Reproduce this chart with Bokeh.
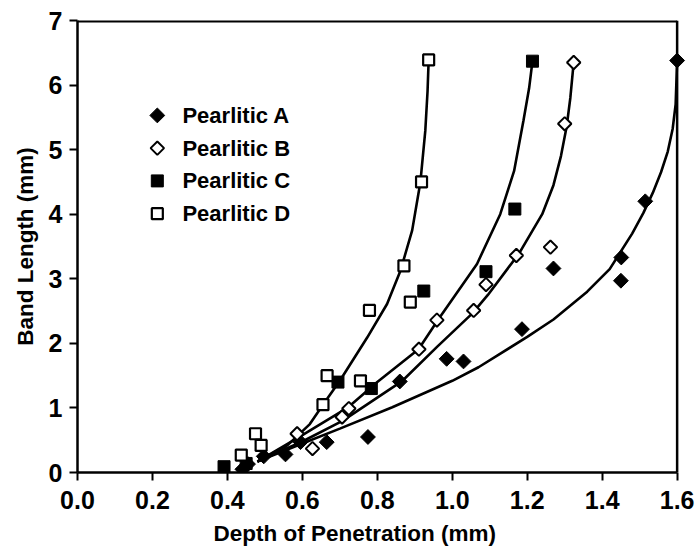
import math
from bokeh.plotting import figure
from bokeh.models import Range1d, Span, Title, FixedTicker
from bokeh.core.properties import value
from bokeh.embed import file_html
from bokeh.resources import INLINE

FONT = "Liberation Sans"

# ---- measured points (Depth of Penetration mm, Band Length mm) ----
a_x = [0.44, 0.455, 0.497, 0.555, 0.595, 0.665, 0.775, 0.86, 0.985, 1.03, 1.186, 1.27, 1.45, 1.451, 1.515, 1.60]
a_y = [0.05, 0.13, 0.25, 0.28, 0.47, 0.47, 0.55, 1.41, 1.76, 1.72, 2.22, 3.16, 2.97, 3.33, 4.20, 6.38]

b_x = [0.586, 0.627, 0.706, 0.724, 0.911, 0.959, 1.057, 1.09, 1.171, 1.262, 1.30, 1.324]
b_y = [0.60, 0.37, 0.86, 0.99, 1.91, 2.36, 2.51, 2.91, 3.36, 3.49, 5.40, 6.35]

c_x = [0.391, 0.45, 0.695, 0.784, 0.924, 1.09, 1.167, 1.214]
c_y = [0.09, 0.14, 1.40, 1.30, 2.81, 3.11, 4.08, 6.37]

d_x = [0.437, 0.475, 0.49, 0.655, 0.666, 0.755, 0.779, 0.871, 0.888, 0.918, 0.937]
d_y = [0.27, 0.60, 0.42, 1.05, 1.50, 1.42, 2.51, 3.20, 2.64, 4.50, 6.39]

# ---- fitted curves ----
a_fit_x = [0.48, 0.60, 0.70, 0.84, 1.00, 1.07, 1.20, 1.27, 1.36, 1.42, 1.48, 1.51, 1.535, 1.557, 1.575, 1.588, 1.596, 1.600]
a_fit_y = [0.17, 0.45, 0.68, 1.01, 1.42, 1.63, 2.10, 2.37, 2.80, 3.15, 3.70, 4.02, 4.33, 4.65, 4.97, 5.32, 5.70, 6.38]

b_fit_x = [0.48, 0.60, 0.707, 0.865, 0.96, 1.053, 1.095, 1.178, 1.24, 1.27, 1.29, 1.305, 1.315, 1.324]
b_fit_y = [0.17, 0.48, 0.80, 1.41, 1.95, 2.46, 2.75, 3.39, 4.00, 4.45, 4.90, 5.35, 5.80, 6.35]

c_fit_x = [0.48, 0.60, 0.72, 0.80, 0.91, 0.964, 1.066, 1.128, 1.165, 1.19, 1.205, 1.214]
c_fit_y = [0.17, 0.58, 1.00, 1.40, 1.91, 2.38, 3.23, 4.00, 4.67, 5.45, 5.95, 6.37]

d_fit_x = [0.48, 0.56, 0.62, 0.655, 0.70, 0.773, 0.826, 0.862, 0.893, 0.915, 0.928, 0.934, 0.937]
d_fit_y = [0.17, 0.42, 0.75, 1.05, 1.42, 2.09, 2.61, 3.13, 3.75, 4.50, 5.29, 5.90, 6.39]

labels = ["Pearlitic A", "Pearlitic B", "Pearlitic C", "Pearlitic D"]

x_ticks = [0.0, 0.2, 0.4, 0.6, 0.8, 1.0, 1.2, 1.4, 1.6]
x_tick_labels = ["0.0", "0.2", "0.4", "0.6", "0.8", "1.0", "1.2", "1.4", "1.6"]
y_ticks = [0, 1, 2, 3, 4, 5, 6, 7]
x_title = "Depth of Penetration (mm)"
y_title = "Band Length (mm)"
X_MAX = 1.6
Y_MAX = 7

# legend layout (data units)
LEG_MARK_X = 0.213
LEG_TEXT_X = 0.28
LEG_TOP_Y = 5.53
LEG_STEP = 0.507

p = figure(width=697, height=552, output_backend="svg", toolbar_location=None,
           x_range=Range1d(0, 1.625), y_range=Range1d(0, Y_MAX),
           min_border_left=77, min_border_right=11, min_border_top=20,
           min_border_bottom=80)
p.outline_line_color = None
p.grid.visible = False
p.background_fill_color = "white"
p.border_fill_color = "white"

for ax in (p.xaxis[0], p.yaxis[0]):
    ax.axis_line_width = 2.5
    ax.axis_line_color = "black"
    ax.major_tick_line_width = 2
    ax.major_tick_line_color = "black"
    ax.major_tick_out = 8
    ax.major_tick_in = 0
    ax.minor_tick_line_color = None
    ax.major_label_text_font = FONT
    ax.major_label_text_font_style = "bold"
    ax.major_label_text_font_size = "25px"
    ax.major_label_text_color = "black"

p.xaxis[0].ticker = FixedTicker(ticks=x_ticks)
p.xaxis[0].major_label_overrides = {t: l for t, l in zip(x_ticks, x_tick_labels)}
p.xaxis[0].bounds = (0, X_MAX)
p.xaxis[0].major_label_standoff = 10

p.yaxis[0].ticker = FixedTicker(ticks=y_ticks)
p.yaxis[0].major_label_standoff = 7

# axis titles as Titles (so they can be offset like in the original)
p.add_layout(Title(text=x_title, align="left", offset=136, standoff=14,
                   text_font=FONT, text_font_style="bold", text_font_size="22.5px",
                   text_color="black"), "below")
p.add_layout(Title(text=y_title, align="center", offset=11, standoff=16,
                   text_font=FONT, text_font_style="bold", text_font_size="22.5px",
                   text_color="black"), "left")

# frame: right and top borders
p.add_layout(Span(location=X_MAX, dimension="height", line_color="black", line_width=2.5))
p.segment(x0=[0], y0=[Y_MAX], x1=[X_MAX], y1=[Y_MAX], line_color="black", line_width=4)

# curves
for fx, fy in ((a_fit_x, a_fit_y), (b_fit_x, b_fit_y), (c_fit_x, c_fit_y), (d_fit_x, d_fit_y)):
    p.line(fx, fy, line_color="black", line_width=2.6)

styles = [
    dict(marker="square", angle=math.pi / 4, size=10.5, fill_color="black", line_width=1),
    dict(marker="square", angle=math.pi / 4, size=9.5, fill_color="white", line_width=2),
    dict(marker="square", angle=0, size=12, fill_color="black", line_width=1),
    dict(marker="square", angle=0, size=11, fill_color="white", line_width=2.2),
]
series = [(a_x, a_y), (b_x, b_y), (c_x, c_y), (d_x, d_y)]

for (sx, sy), st in zip(series, styles):
    p.scatter(sx, sy, line_color="black", **st)

# legend (drawn manually so the diamonds keep their rotation)
leg_y = [LEG_TOP_Y - i * LEG_STEP for i in range(len(labels))]
for i, st in enumerate(styles):
    p.scatter([LEG_MARK_X], [leg_y[i]], line_color="black", **st)
p.text(x=[LEG_TEXT_X] * len(labels), y=leg_y, text=labels, text_font=value(FONT),
       text_font_style="bold", text_font_size="22px", text_baseline="middle",
       text_align="left", text_color="black")

open("out.html", "w").write(file_html(p, INLINE))
